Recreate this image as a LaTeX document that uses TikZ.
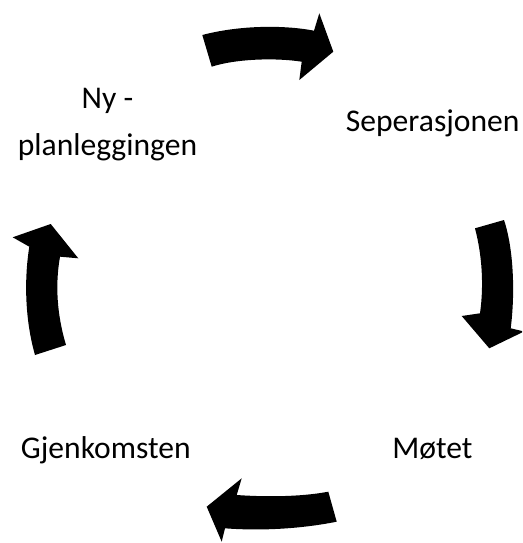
\documentclass[tikz,border=0pt]{standalone}
\usepackage{fontspec}
\setmainfont{Carlito}
\begin{document}
\begin{tikzpicture}[x=1pt,y=-1pt,
  lbl/.style={anchor=base,inner sep=0pt,font=\fontsize{31.6}{38}\selectfont,text=black},
  cyclearrow/.style={fill=black,draw=none}]
\clip (0,0) rectangle (522,543);
\fill[white] (0,0) rectangle (522,543);
% top arrow (to the right)
\path[cyclearrow] (202.3,35) .. controls (240,25) and (285,25) .. (314,30.7)
  -- (319.3,13.3) -- (333.3,51.7) -- (299.3,80) -- (301.7,61.7)
  .. controls (275,57.5) and (235,59) .. (211.7,66.7) -- cycle;
% right arrow (down)
\path[cyclearrow] (475,228.3) -- (504,220) .. controls (514,250) and (515,295) .. (510.7,328.3)
  -- (524,331.5) -- (489.3,348.3) -- (461.7,316) -- (480,313.3)
  .. controls (484,285) and (482,255) .. (475,228.3) -- cycle;
% bottom arrow (to the left)
\path[cyclearrow] (328.3,491.7) .. controls (300,497) and (265,497) .. (236.7,495)
  -- (241.7,478.3) -- (206.7,506.7) -- (221.7,541.7) -- (225,528.3)
  .. controls (260,531) and (300,529) .. (336.7,521.7) -- cycle;
% left arrow (up)
\path[cyclearrow] (35,355) .. controls (25,320) and (24,280) .. (29.3,246.7)
  -- (12.7,237.3) -- (50.7,224) -- (78.3,258.3) -- (60,256.7)
  .. controls (55,285) and (57,315) .. (66,345) -- cycle;
% labels
\node[lbl] (ny) at (107.5,108.3) {Ny -};
\node[lbl] (plan) at (107.5,155) {planleggingen};
\node[lbl] (sep) at (432.7,131.7) {Seperasjonen};
\node[lbl] (gjen) at (105.8,458.3) {Gjenkomsten};
\node[lbl] (mot) at (432.5,458.3) {Møtet};
\end{tikzpicture}
\end{document}
